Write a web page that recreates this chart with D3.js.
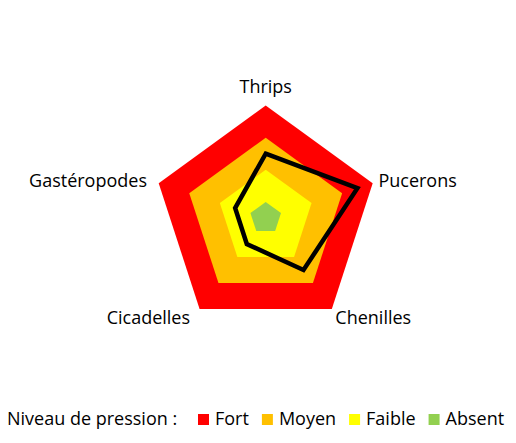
<!DOCTYPE html>
<html>
<head>
<meta charset="utf-8">
<script src="https://cdn.jsdelivr.net/npm/d3@7"></script>
<style>
  body { margin: 0; background: #fff; }
  text { font-family: "Open Sans", sans-serif; font-size: 18px; fill: #000; }
</style>
</head>
<body>
<script>
// chart data ---------------------------------
var axes = ['Thrips', 'Pucerons', 'Chenilles', 'Cicadelles', 'Gastéropodes'];
var levels = ['Fort', 'Moyen', 'Faible', 'Absent'];
var levelValues = [4, 3, 2, 1];
var levelColors = ['#ff0000', '#ffc000', '#ffff00', '#92d050'];
var pressure = [2.5, 3.5, 2.5, 1.5, 1.5];

var width = 516, height = 443;
var cx = 265.7, cy = 218, radius = 112.5;

var svg = d3.select('body').append('svg')
  .attr('width', width)
  .attr('height', height);

// radial scale starts a bit above 0 like the original
var r = d3.scaleLinear().domain([0.5, 4]).range([0, radius]);
var angle = d3.scalePoint().domain(axes.concat(['_end'])).range([0, 2 * Math.PI]);

var point = function(name, value) {
  var a = angle(name);
  return [cx + Math.sin(a) * r(value), cy - Math.cos(a) * r(value)];
};

var shape = function(getValue) {
  return axes.map(function(name, i) { return point(name, getValue(i)); });
};

// background level areas
svg.selectAll('polygon.level')
  .data(levelValues)
  .enter()
  .append('polygon')
  .attr('class', 'level')
  .attr('points', function(v) { return shape(function() { return v; }).join(' '); })
  .attr('fill', function(v, i) { return levelColors[i]; });

// black series line
svg.append('path')
  .attr('d', d3.line().curve(d3.curveLinearClosed)(shape(function(i) { return pressure[i]; })))
  .attr('fill', 'none')
  .attr('stroke', '#000')
  .attr('stroke-width', 4.5)
  .attr('stroke-linejoin', 'miter');

// axis labels
svg.selectAll('text.axis')
  .data(axes)
  .enter()
  .append('text')
  .attr('class', 'axis')
  .each(function(name) {
    var a = angle(name);
    var s = Math.sin(a), c = Math.cos(a);
    var p = [cx + s * (radius + 6), cy - c * (radius + 6)];
    var dy = c > 0.9 ? -7 : (c > 0 ? 6 : 10);
    d3.select(this)
      .attr('x', p[0] + (s < -0.1 ? -6 : 0))
      .attr('y', p[1] + dy)
      .attr('text-anchor', s > 0.1 ? 'start' : (s < -0.1 ? 'end' : 'middle'))
      .text(name);
  });

// legend
var legend = svg.append('g').attr('transform', 'translate(7,425)');
legend.append('text').attr('x', 0).attr('y', 0).text('Niveau de pression :');
var lx = 191;
levels.forEach(function(name, i) {
  legend.append('rect')
    .attr('x', lx).attr('y', -11)
    .attr('width', 11).attr('height', 11)
    .attr('fill', levelColors[i]);
  var t = legend.append('text').attr('x', lx + 17).attr('y', 0).text(name);
  lx += 17 + t.node().getComputedTextLength() + 13;
});
</script>
</body>
</html>
